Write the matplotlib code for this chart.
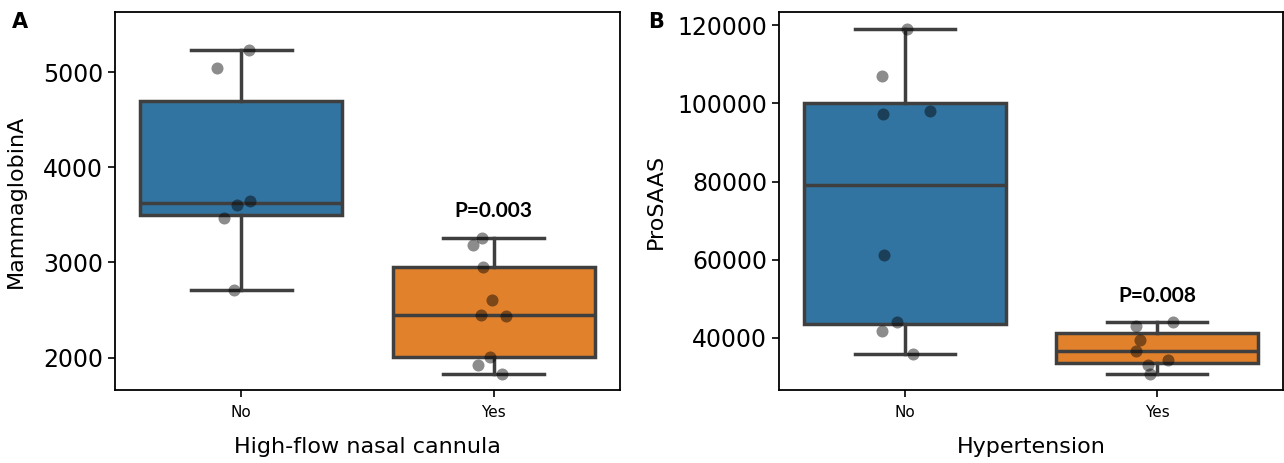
import matplotlib
matplotlib.use('Agg')
from matplotlib import pyplot as plt
import numpy as np

# panel A: MammaglobinA vs high-flow nasal cannula
a_no = [5226, 5046, 3648, 3599, 3469, 2712]
a_yes = [3257, 3180, 2948, 2610, 2451, 2437, 2004, 1923, 1828]
# horizontal jitter of each dot (category units)
a_no_jit = [0.03, -0.095, 0.036, -0.016, -0.07, -0.028]
a_yes_jit = [-0.048, -0.082, -0.044, -0.007, -0.049, 0.05, -0.016, -0.063, 0.032]
a_ticks = [2000, 3000, 4000, 5000]

# panel B: ProSAAS vs hypertension
b_no = [118970, 106960, 97960, 97190, 61090, 44120, 41630, 35960]
b_yes = [44120, 43000, 39400, 36570, 34340, 32970, 30740]
b_no_jit = [0.006, -0.091, 0.098, -0.087, -0.082, -0.031, -0.093, 0.033]
b_yes_jit = [0.063, -0.083, -0.069, -0.083, 0.042, -0.035, -0.027]
b_ticks = [40000, 60000, 80000, 100000, 120000]

cats = ['No', 'Yes']
colors = ['#3274a1', '#e1812c']
edge = '#3f3f3f'

fig = plt.figure(figsize=(12.84, 4.63), dpi=100)
axA = fig.add_axes([0.0896, 0.1577, 0.3933, 0.8163])
axB = fig.add_axes([0.6067, 0.1577, 0.3925, 0.8163])


def panel(ax, groups, jits, xlabel, ylabel, ylim, ticks, ptext, py, lpad):
    bp = ax.boxplot(groups, positions=[0, 1], widths=0.8, patch_artist=True,
                    showfliers=False, whis=1.5,
                    boxprops=dict(linewidth=2.5, edgecolor=edge),
                    medianprops=dict(linewidth=2.5, color=edge),
                    whiskerprops=dict(linewidth=2.5, color=edge),
                    capprops=dict(linewidth=2.5, color=edge))
    for patch, c in zip(bp['boxes'], colors):
        patch.set_facecolor(c)
    for i, (vals, jit) in enumerate(zip(groups, jits)):
        ax.scatter(np.array(jit) + i, vals, s=75, color='k', alpha=0.45,
                   linewidths=0, zorder=3)
    ax.set_xlim(-0.5, 1.5)
    ax.set_ylim(*ylim)
    ax.set_yticks(ticks)
    ax.set_xticks([0, 1])
    ax.set_xticklabels(cats, fontsize=11)
    ax.tick_params(axis='y', labelsize=17, length=5, width=1.2)
    ax.tick_params(axis='x', length=5, width=1.2, pad=6)
    ax.set_xlabel(xlabel, fontsize=16, labelpad=12)
    ax.set_ylabel(ylabel, fontsize=16, labelpad=lpad)
    for sp in ax.spines.values():
        sp.set_linewidth(1.3)
    ax.text(1, py, ptext, ha='center', va='center', fontsize=15,
            fontweight='bold', family=['Lato', 'DejaVu Sans'])


panel(axA, [a_no, a_yes], [a_no_jit, a_yes_jit], 'High-flow nasal cannula',
      'MammaglobinA', (1660, 5630), a_ticks, 'P=0.003', 3539, 12)
panel(axB, [b_no, b_yes], [b_no_jit, b_yes_jit], 'Hypertension',
      'ProSAAS', (26620, 123420), b_ticks, 'P=0.008', 50800, 8)

fig.text(12 / 1284, 1 - 22 / 463, 'A', fontsize=15, fontweight='bold',
         va='center', ha='left')
fig.text(648 / 1284, 1 - 22 / 463, 'B', fontsize=15, fontweight='bold',
         va='center', ha='left')

fig.savefig('out.png', dpi=100)
